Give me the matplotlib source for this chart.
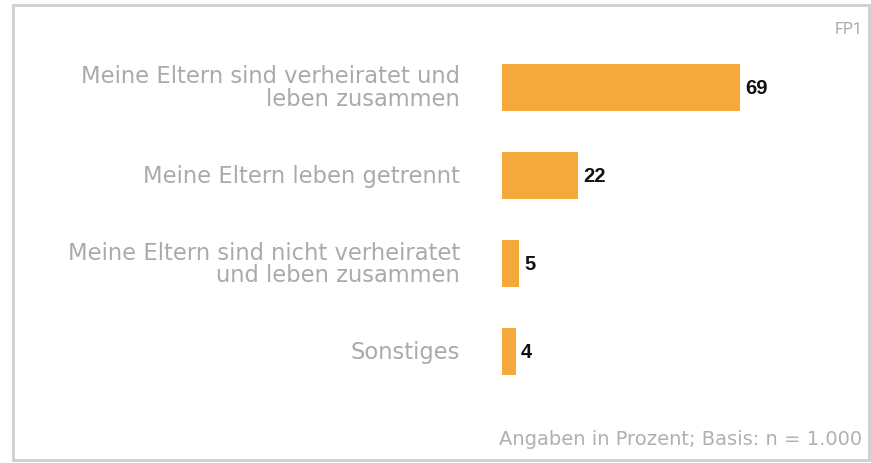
import matplotlib
matplotlib.use("Agg")
import matplotlib.pyplot as plt
from matplotlib.patches import Rectangle

categories = [
    "Meine Eltern sind verheiratet und\nleben zusammen",
    "Meine Eltern leben getrennt",
    "Meine Eltern sind nicht verheiratet\nund leben zusammen",
    "Sonstiges",
]
values = [69, 22, 5, 4]
chart_id = "FP1"
footnote = "Angaben in Prozent; Basis: n = 1.000"

W, H = 871, 464
fig = plt.figure(figsize=(W / 100, H / 100), dpi=100)
fig.patch.set_facecolor("white")

# outer frame
fig.patches.append(Rectangle((13 / W, 3 / H), 856 / W, 455 / H, transform=fig.transFigure,
                             fill=False, edgecolor="#cfcfcf", linewidth=2))

ax = fig.add_axes([502 / W, 1 - 397 / H, 345 / W, 353 / H])
pos = list(range(len(values)))
ax.barh(pos, values, height=0.53, color="#F5A93C", edgecolor="none")
ax.set_xlim(0, 100)
ax.set_ylim(len(values) - 0.5, -0.5)
ax.axis("off")

for p, v, c in zip(pos, values, categories):
    ax.annotate(f"{v}", xy=(v, p), xycoords="data", xytext=(5, 0), textcoords="offset pixels",
                va="center", ha="left", fontsize=14.5, fontweight="bold",
                color="#111111", family="Liberation Sans")
    ax.annotate(c, xy=(0, p), xycoords="data", xytext=(-42, 0), textcoords="offset pixels",
                ha="right", va="center", fontsize=16.3, color="#aaaaaa",
                family="DejaVu Sans", linespacing=0.98)

fig.text(862 / W, 1 - 30 / H, chart_id, ha="right", va="center", fontsize=11.5,
         color="#aaaaaa", family="Roboto")
fig.text(862 / W, 1 - 440 / H, footnote, ha="right", va="center", fontsize=14,
         color="#b0b0b0", family="DejaVu Sans")

fig.savefig("out.png", dpi=100, facecolor="white")
